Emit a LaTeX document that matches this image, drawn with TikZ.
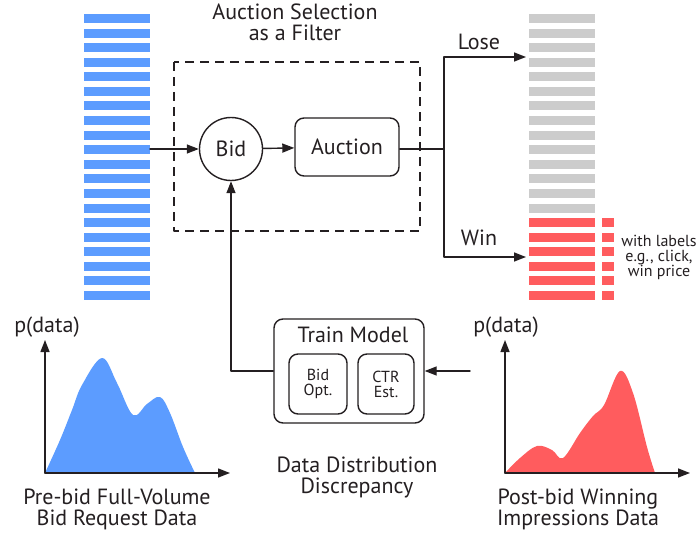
\documentclass[tikz,border=0pt]{standalone}
\usepackage{fontspec}
\setmainfont{PT Sans}
\usepackage{tikz}
\usetikzlibrary{arrows.meta}
\definecolor{bidblue}{rgb}{0.36,0.61,1.}
\definecolor{winred}{rgb}{1.,0.36,0.37}
\definecolor{losegray}{rgb}{0.8,0.8,0.8}
\definecolor{inkgray}{rgb}{0.14,0.12,0.13}
\begin{document}
\begin{tikzpicture}[line cap=round,line join=round,>={Triangle[length=12pt,width=9pt]},x=1pt,y=-1pt,
  every node/.style={text=inkgray,font=\fontsize{22}{21}\selectfont,align=center},
  flow/.style={draw=inkgray,line width=1.4pt},
  rbox/.style={draw=inkgray,line width=1.4pt,rounded corners=9pt},
  small/.style={font=\fontsize{16}{15}\selectfont}]
\useasboundingbox (0,0) rectangle (700,540);
% bars
\foreach \i in {0,...,19}
  \fill[bidblue] (84,14+14.58*\i) rectangle (150,23+14.58*\i);
\foreach \i in {0,...,13}
  \fill[losegray] (529,14+14.58*\i) rectangle (595,23+14.58*\i);
\foreach \i in {14,...,19}{
  \fill[winred] (529,14+14.58*\i) rectangle (595,23+14.58*\i);
  \fill[winred] (602,14+14.58*\i) rectangle (614,23+14.58*\i);}
% filter
\draw[draw=inkgray,line width=1.4pt,dash pattern=on 9pt off 6pt,line cap=butt] (174,62) rectangle (420,231);
\node (title) at (295,22) {Auction Selection\\as a Filter};
\node[draw=inkgray,line width=1.4pt,circle,minimum size=63pt,inner sep=0pt] (bid) at (231,149) {Bid};
\node[rbox,minimum width=104pt,minimum height=58pt,inner sep=0pt] (auction) at (347,147) {Auction};
\coordinate (prein) at (150,149);
\coordinate (split) at (444,149);
\coordinate (losein) at (526,57);
\coordinate (winin) at (526,257);
\draw[flow,->] (prein) -- (bid);
\draw[flow,->] (bid) -- (auction);
\draw[flow] (auction.east |- split) -- (split);
\draw[flow,->] (split) |- (losein);
\draw[flow,->] (split) |- (winin);
\node (lose) at (479,42) {Lose};
\node (win) at (479,238) {Win};
\node[small] (labels) at (659,257) {with labels\\e.g., click,\\win price};
% train model
\node[rbox,minimum width=150pt,minimum height=104pt] (train) at (349,371) {};
\node (traintitle) at (353,335) {Train Model};
\node[rbox,small,minimum width=58pt,minimum height=60pt,inner sep=0pt] (opt) at (318,384) {Bid\\Opt.};
\node[rbox,small,minimum width=56pt,minimum height=60pt,inner sep=0pt] (ctr) at (386,384) {CTR\\Est.};
\coordinate (postout) at (470,371);
\draw[flow,->] (train.west) -| (bid.south);
\draw[flow,->] (postout) -- (train.east);
\node (gap) at (357,477) {Data Distribution\\Discrepancy};
% pre-bid distribution
\fill[bidblue] plot[smooth,tension=0.6] coordinates {(45,473) (60,440) (72,410) (82,385) (102,358) (117,383) (133,415) (147,404) (160,397) (170,413) (183,447) (195,473)} -- cycle;
\coordinate (preo) at (45,473);
\coordinate (prey) at (45,340);
\coordinate (prex) at (230,473);
\draw[flow,->] (preo) -- (prey);
\draw[flow,->] (preo) -- (prex);
\node (prep) at (47,327) {p(data)};
\node (precap) at (117,509) {Pre-bid Full-Volume\\Bid Request Data};
% post-bid distribution
\fill[winred] plot[smooth,tension=0.6] coordinates {(505,473) (520,458) (537,446) (552,450) (563,458) (580,433) (593,416) (604,405) (620,371) (633,393) (647,447) (655,473)} -- cycle;
\coordinate (posto) at (505,473);
\coordinate (posty) at (505,340);
\coordinate (postx) at (690,473);
\draw[flow,->] (posto) -- (posty);
\draw[flow,->] (posto) -- (postx);
\node (postp) at (506,327) {p(data)};
\node (postcap) at (578,509) {Post-bid Winning\\Impressions Data};
\end{tikzpicture}
\end{document}
